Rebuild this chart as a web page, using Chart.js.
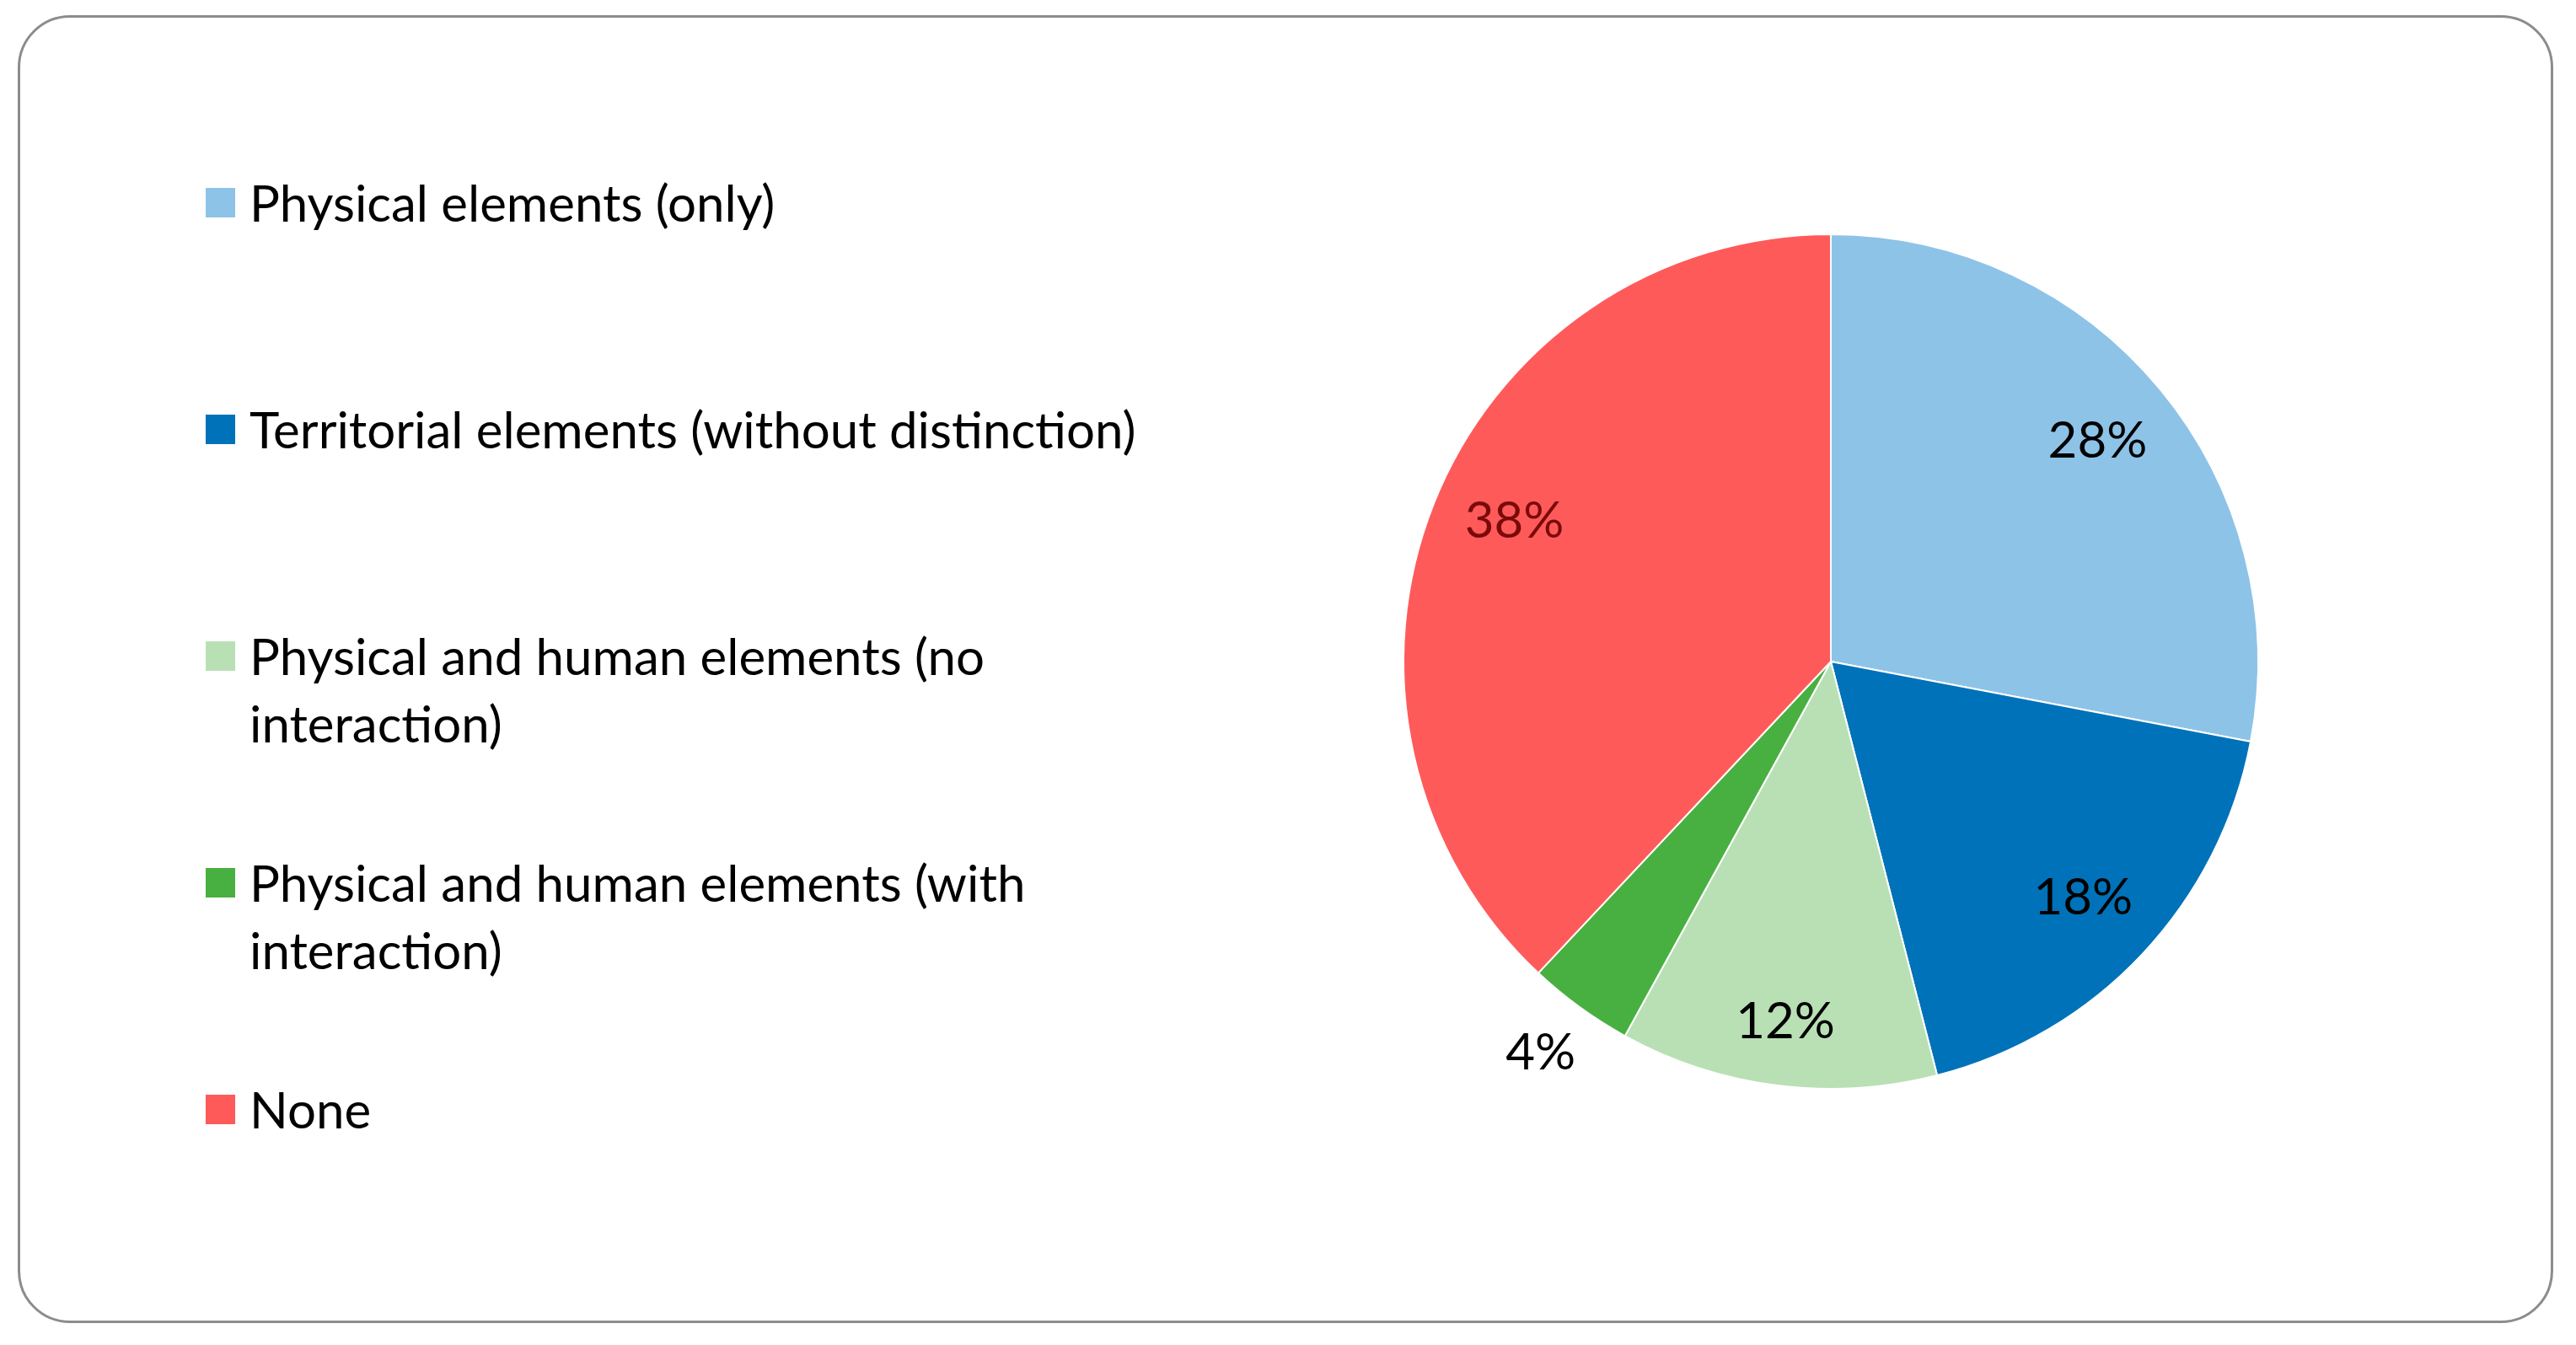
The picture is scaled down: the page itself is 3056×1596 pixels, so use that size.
<!DOCTYPE html>
<html>
<head>
<meta charset="utf-8">
<script src="https://cdn.jsdelivr.net/npm/chart.js@4.4.0/dist/chart.umd.min.js"></script>
<style>
  html, body { margin: 0; padding: 0; background: #fff; }
  body { width: 3056px; height: 1596px; position: relative; overflow: hidden; font-family: Lato, "Open Sans", sans-serif; }
  #frame {
    position: absolute; left: 21px; top: 18px; width: 3008px; height: 1552px;
    box-sizing: border-box; border: 3px solid #8c8c8c; border-radius: 62px;
  }
  #chart-wrap { position: absolute; left: 0; top: 0; width: 3056px; height: 1596px; }
  #legend { position: absolute; left: 244px; top: 200px; margin: 0; padding: 0; list-style: none; }
  #legend li { position: relative; height: 269px; padding-left: 52px; font-size: 60px; line-height: 80px; color: #000; white-space: nowrap; }
  #legend li span.box { position: absolute; left: 0; top: 23px; width: 35px; height: 35px; }
</style>
</head>
<body>
<div id="frame"></div>
<div id="chart-wrap"><canvas id="pie"></canvas></div>
<ul id="legend"></ul>
<script>
  const categories = [
    ['Physical elements (only)'],
    ['Territorial elements (without distinction)'],
    ['Physical and human elements (no', 'interaction)'],
    ['Physical and human elements (with', 'interaction)'],
    ['None']
  ];
  const shares = [28, 18, 12, 4, 38];
  const sliceColors = ['#8ec3e8', '#0072b9', '#b9e0b5', '#48b040', '#ff5a5a'];
  const labelColors = ['#000000', '#000000', '#000000', '#000000', '#7a0a0a'];

  // draws the percent labels on each slice
  const percentLabels = {
    id: 'percentLabels',
    afterDatasetsDraw(chart, args, opts) {
      const ctx = chart.ctx;
      const meta = chart.getDatasetMeta(0);
      ctx.save();
      ctx.font = opts.font;
      ctx.textAlign = 'center';
      ctx.textBaseline = 'middle';
      meta.data.forEach((arc, i) => {
        const p = arc.getProps(['x', 'y', 'startAngle', 'endAngle', 'outerRadius'], true);
        const mid = (p.startAngle + p.endAngle) / 2 + (opts.shift[i] || 0);
        const r = p.outerRadius * opts.dist[i];
        ctx.fillStyle = labelColors[i];
        ctx.fillText(chart.data.datasets[0].data[i] + '%', p.x + Math.cos(mid) * r, p.y + Math.sin(mid) * r);
      });
      ctx.restore();
    }
  };

  const chart = new Chart(document.getElementById('pie').getContext('2d'), {
    type: 'pie',
    data: {
      labels: categories,
      datasets: [{
        data: shares,
        backgroundColor: sliceColors,
        borderColor: '#ffffff',
        borderWidth: 2
      }]
    },
    options: {
      responsive: true,
      maintainAspectRatio: false,
      animation: false,
      layout: { padding: { left: 1664, right: 376, top: 275, bottom: 301 } },
      plugins: {
        legend: { display: false },
        tooltip: { enabled: false },
        percentLabels: {
          font: '60px Lato, "Open Sans", sans-serif',
          dist: [0.81, 0.81, 0.85, 1.14, 0.81],
          shift: [0, 0, 0, 0.01, 0.04]
        }
      }
    },
    plugins: [percentLabels]
  });

  // html legend built from the chart's own legend items
  const legendEl = document.getElementById('legend');
  chart.options.plugins.legend.labels.generateLabels(chart).forEach(item => {
    const li = document.createElement('li');
    const box = document.createElement('span');
    box.className = 'box';
    box.style.background = item.fillStyle;
    li.appendChild(box);
    const lines = Array.isArray(item.text) ? item.text : [item.text];
    lines.forEach((t, k) => {
      if (k) li.appendChild(document.createElement('br'));
      li.appendChild(document.createTextNode(t));
    });
    legendEl.appendChild(li);
  });
</script>
</body>
</html>
